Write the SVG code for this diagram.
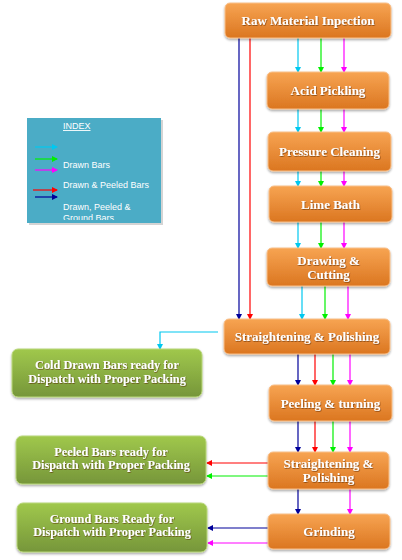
<svg xmlns="http://www.w3.org/2000/svg" width="402" height="560" viewBox="0 0 402 560">
<style>
.ob{fill:url(#og);stroke:#F9C08A;stroke-width:1;filter:url(#sh)}
.gb{fill:url(#gg);stroke:#B9D77A;stroke-width:1;filter:url(#sh)}
.t{font-family:"Liberation Serif",serif;font-weight:bold;fill:#fff;text-anchor:middle;font-size:13px}
.ts{font-family:"Liberation Serif",serif;font-weight:bold;fill:#fff;text-anchor:middle;font-size:12.3px}
.lg{font-family:"Liberation Sans",Arial,sans-serif;fill:#fff;font-size:9px}
line,polyline{fill:none;stroke-width:1.2}
.c{stroke:#00C8F0}.g{stroke:#00F000}.m{stroke:#FF00FF}.r{stroke:#FF0000}.n{stroke:#00009A}
</style>
<defs>
<linearGradient id="og" x1="0" y1="0" x2="0" y2="1"><stop offset="0" stop-color="#F7A452"/><stop offset="1" stop-color="#DB7620"/></linearGradient>
<linearGradient id="gg" x1="0" y1="0" x2="0" y2="1"><stop offset="0" stop-color="#A0C84C"/><stop offset="1" stop-color="#76963A"/></linearGradient>
<filter id="sh" x="-10%" y="-20%" width="120%" height="150%"><feDropShadow dx="0" dy="1.5" stdDeviation="1.2" flood-color="#000" flood-opacity="0.35"/></filter>
<filter id="ts"><feDropShadow dx="0.6" dy="0.8" stdDeviation="0.4" flood-color="#5a2a00" flood-opacity="0.7"/></filter>
<marker id="ac" markerWidth="6" markerHeight="6" refX="5" refY="3" orient="auto" markerUnits="userSpaceOnUse"><path d="M0,0L6,3L0,6z" fill="#00C8F0"/></marker>
<marker id="ag" markerWidth="6" markerHeight="6" refX="5" refY="3" orient="auto" markerUnits="userSpaceOnUse"><path d="M0,0L6,3L0,6z" fill="#00F000"/></marker>
<marker id="am" markerWidth="6" markerHeight="6" refX="5" refY="3" orient="auto" markerUnits="userSpaceOnUse"><path d="M0,0L6,3L0,6z" fill="#FF00FF"/></marker>
<marker id="ar" markerWidth="6" markerHeight="6" refX="5" refY="3" orient="auto" markerUnits="userSpaceOnUse"><path d="M0,0L6,3L0,6z" fill="#FF0000"/></marker>
<marker id="an" markerWidth="6" markerHeight="6" refX="5" refY="3" orient="auto" markerUnits="userSpaceOnUse"><path d="M0,0L6,3L0,6z" fill="#00009A"/></marker>
<clipPath id="lc"><rect x="27" y="118" width="134" height="102"/></clipPath>
</defs>
<rect width="402" height="560" fill="#fff"/>

<g id="legend">
<rect x="29" y="120" width="134" height="105" fill="#D4D4D4"/>
<rect x="27" y="118" width="134" height="105" fill="#4BACC6"/>
<g clip-path="url(#lc)">
<text class="lg" x="63" y="129" text-decoration="underline">INDEX</text>
<line class="c" x1="35" y1="147" x2="57" y2="147" marker-end="url(#ac)"/>
<line class="g" x1="35" y1="159" x2="57" y2="159" marker-end="url(#ag)"/>
<line class="m" x1="35" y1="170" x2="57" y2="170" marker-end="url(#am)"/>
<text class="lg" x="63" y="168">Drawn Bars</text>
<line class="r" x1="33" y1="190" x2="57" y2="190" marker-end="url(#ar)"/>
<line class="n" x1="35" y1="197" x2="57" y2="197" marker-end="url(#an)"/>
<text class="lg" x="63" y="188">Drawn &amp; Peeled Bars</text>
<text class="lg" x="63" y="210">Drawn, Peeled &amp;</text>
<text class="lg" x="63" y="221">Ground Bars</text>
</g>
</g>

<g id="connectors">
<line class="n" x1="239" y1="38" x2="239" y2="319" marker-end="url(#an)"/>
<line class="r" x1="250" y1="38" x2="250" y2="319" marker-end="url(#ar)"/>
<line class="c" x1="298" y1="38" x2="298" y2="72" marker-end="url(#ac)"/>
<line class="g" x1="321" y1="38" x2="321" y2="72" marker-end="url(#ag)"/>
<line class="m" x1="344" y1="38" x2="344" y2="72" marker-end="url(#am)"/>
<line class="c" x1="298" y1="109" x2="298" y2="132" marker-end="url(#ac)"/>
<line class="g" x1="321" y1="109" x2="321" y2="132" marker-end="url(#ag)"/>
<line class="m" x1="344" y1="109" x2="344" y2="132" marker-end="url(#am)"/>
<line class="c" x1="298" y1="171" x2="298" y2="186" marker-end="url(#ac)"/>
<line class="g" x1="321" y1="171" x2="321" y2="186" marker-end="url(#ag)"/>
<line class="m" x1="344" y1="171" x2="344" y2="186" marker-end="url(#am)"/>
<line class="c" x1="298" y1="222" x2="298" y2="248" marker-end="url(#ac)"/>
<line class="g" x1="321" y1="222" x2="321" y2="248" marker-end="url(#ag)"/>
<line class="m" x1="344" y1="222" x2="344" y2="248" marker-end="url(#am)"/>
<line class="c" x1="302" y1="286" x2="302" y2="319" marker-end="url(#ac)"/>
<line class="g" x1="325" y1="286" x2="325" y2="319" marker-end="url(#ag)"/>
<line class="m" x1="348" y1="286" x2="348" y2="319" marker-end="url(#am)"/>
<polyline class="c" points="218,332 160,332 160,349" marker-end="url(#ac)"/>
<line class="n" x1="298" y1="354" x2="298" y2="385" marker-end="url(#an)"/>
<line class="r" x1="315" y1="354" x2="315" y2="385" marker-end="url(#ar)"/>
<line class="g" x1="333" y1="354" x2="333" y2="385" marker-end="url(#ag)"/>
<line class="m" x1="350" y1="354" x2="350" y2="385" marker-end="url(#am)"/>
<line class="n" x1="298" y1="421" x2="298" y2="452" marker-end="url(#an)"/>
<line class="r" x1="315" y1="421" x2="315" y2="452" marker-end="url(#ar)"/>
<line class="g" x1="333" y1="421" x2="333" y2="452" marker-end="url(#ag)"/>
<line class="m" x1="350" y1="421" x2="350" y2="452" marker-end="url(#am)"/>
<line class="r" x1="268" y1="463" x2="207" y2="463" marker-end="url(#ar)"/>
<line class="g" x1="268" y1="476" x2="207" y2="476" marker-end="url(#ag)"/>
<line class="n" x1="298" y1="489" x2="298" y2="514" marker-end="url(#an)"/>
<line class="m" x1="350" y1="489" x2="350" y2="514" marker-end="url(#am)"/>
<line class="n" x1="268" y1="528" x2="208" y2="528" marker-end="url(#an)"/>
<line class="m" x1="268" y1="543" x2="208" y2="543" marker-end="url(#am)"/>
</g>

<g id="raw"><rect class="ob" x="225" y="3" width="166" height="35" rx="5"/><text class="t" x="308" y="25" filter="url(#ts)">Raw Material Inpection</text></g>
<g id="acid"><rect class="ob" x="267" y="72" width="122" height="37" rx="5"/><text class="t" x="328" y="95" filter="url(#ts)">Acid Pickling</text></g>
<g id="pressure"><rect class="ob" x="268" y="132" width="123" height="39" rx="5"/><text class="t" x="329.5" y="156" filter="url(#ts)">Pressure Cleaning</text></g>
<g id="lime"><rect class="ob" x="269" y="186" width="123" height="36" rx="5"/><text class="t" x="330.5" y="209" filter="url(#ts)">Lime Bath</text></g>
<g id="drawing"><rect class="ob" x="267" y="248" width="123" height="38" rx="5"/><text class="t" x="328.5" y="265" filter="url(#ts)">Drawing &amp;</text><text class="t" x="328.5" y="279" filter="url(#ts)">Cutting</text></g>
<g id="straight1"><rect class="ob" x="224" y="319" width="166" height="35" rx="5"/><text class="t" x="307" y="341" filter="url(#ts)">Straightening &amp; Polishing</text></g>
<g id="colddrawn"><rect class="gb" x="12" y="349" width="190" height="48" rx="6"/><text class="ts" x="107" y="369" filter="url(#ts)">Cold Drawn Bars ready for</text><text class="ts" x="107" y="383" filter="url(#ts)">Dispatch with Proper Packing</text></g>
<g id="peeling"><rect class="ob" x="269" y="385" width="123" height="36" rx="5"/><text class="t" x="330.5" y="408" filter="url(#ts)">Peeling &amp; turning</text></g>
<g id="straight2"><rect class="ob" x="268" y="452" width="121" height="37" rx="5"/><text class="t" x="328.5" y="468" filter="url(#ts)">Straightening &amp;</text><text class="t" x="328.5" y="482" filter="url(#ts)">Polishing</text></g>
<g id="peeled"><rect class="gb" x="16" y="436" width="190" height="48" rx="6"/><text class="ts" x="111" y="456" filter="url(#ts)">Peeled Bars ready for</text><text class="ts" x="111" y="469" filter="url(#ts)">Dispatch with Proper Packing</text></g>
<g id="grinding"><rect class="ob" x="268" y="514" width="122" height="35" rx="5"/><text class="t" x="329" y="536" filter="url(#ts)">Grinding</text></g>
<g id="ground"><rect class="gb" x="17" y="503" width="190" height="49" rx="6"/><text class="ts" x="112" y="523" filter="url(#ts)">Ground Bars Ready for</text><text class="ts" x="112" y="536" filter="url(#ts)">Dispatch with Proper Packing</text></g>
</svg>
